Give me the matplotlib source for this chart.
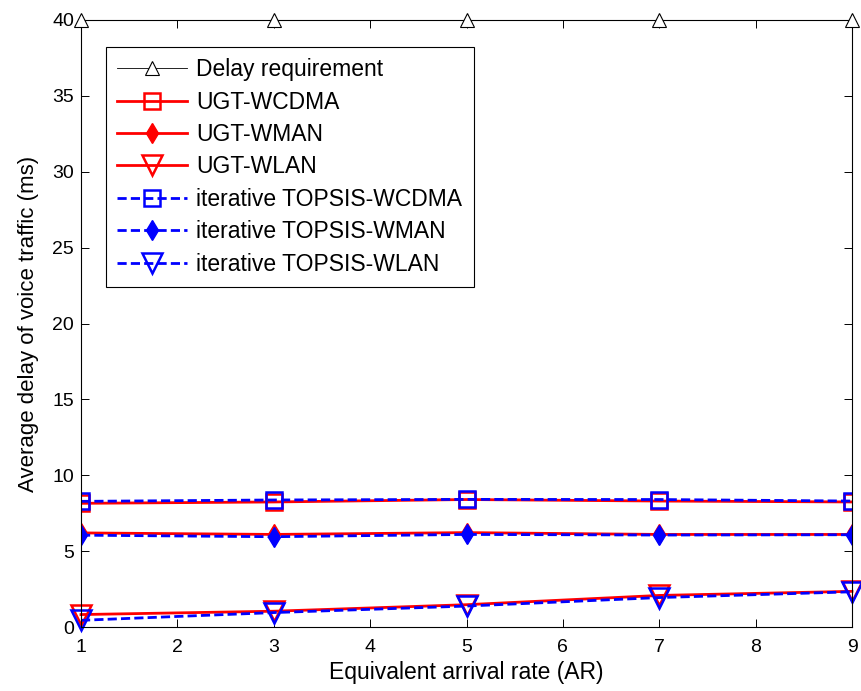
import matplotlib
matplotlib.use("Agg")
import matplotlib.pyplot as plt

# equivalent arrival rate
ar = [1, 3, 5, 7, 9]

delay_req = [40, 40, 40, 40, 40]

ugt_wcdma = [8.15, 8.24, 8.40, 8.30, 8.24]
ugt_wman = [6.20, 6.10, 6.22, 6.10, 6.10]
ugt_wlan = [0.82, 1.04, 1.47, 2.08, 2.35]

top_wcdma = [8.28, 8.37, 8.41, 8.40, 8.30]
top_wman = [6.05, 5.95, 6.10, 6.06, 6.08]
top_wlan = [0.44, 0.95, 1.38, 1.94, 2.32]

plt.rcParams["font.family"] = ["Liberation Sans", "DejaVu Sans"]

fig = plt.figure(figsize=(8.61, 6.91), dpi=100)
ax = fig.add_axes([81 / 861, 1 - 627 / 691, 771 / 861, 607 / 691])

lw = 2.0
dash = (0, (3.3, 1.5))
mew = 1.8

ax.plot(ar, delay_req, color="black", lw=0.6, marker="^", ms=10,
        mfc="white", mec="black", mew=0.8, clip_on=False, zorder=5,
        label="Delay requirement")

ax.plot(ar, ugt_wcdma, color="red", lw=lw, marker="s", ms=11,
        mfc="none", mew=mew, label="UGT-WCDMA")
ax.plot(ar, ugt_wman, color="red", lw=lw, marker="d", ms=10,
        mfc="red", mew=1, label="UGT-WMAN")
ax.plot(ar, ugt_wlan, color="red", lw=lw, marker="v", ms=15,
        mfc="none", mew=mew, clip_on=False, label="UGT-WLAN")

ax.plot(ar, top_wcdma, color="blue", lw=lw, ls=dash, marker="s",
        ms=11, mfc="none", mew=mew, label="iterative TOPSIS-WCDMA")
ax.plot(ar, top_wman, color="blue", lw=lw, ls=dash, marker="d",
        ms=10, mfc="blue", mew=1, label="iterative TOPSIS-WMAN")
ax.plot(ar, top_wlan, color="blue", lw=lw, ls=dash, marker="v",
        ms=15, mfc="none", mew=mew, clip_on=False,
        label="iterative TOPSIS-WLAN")

ax.set_xlim(1, 9)
ax.set_ylim(0, 40)
ax.set_xticks(range(1, 10))
ax.set_yticks(range(0, 41, 5))
ax.tick_params(direction="in", length=6, width=0.7, top=True, right=True,
               labelsize=14)
ax.tick_params(axis="x", pad=9)
ax.tick_params(axis="y", pad=5)
for sp in ax.spines.values():
    sp.set_linewidth(0.8)

ax.set_xlabel("Equivalent arrival rate (AR)", fontsize=16.5, labelpad=3)
ax.set_ylabel("Average delay of voice traffic (ms)", fontsize=16,
              labelpad=9.5)

leg = ax.legend(loc="upper left", bbox_to_anchor=(0.032, 0.956),
                borderaxespad=0, fancybox=False, framealpha=1,
                edgecolor="black", handlelength=3.05, handletextpad=0.4,
                labelspacing=0.41, borderpad=0.5, fontsize=16.5)
leg.get_frame().set_linewidth(0.8)

fig.savefig("out.png", dpi=100)
